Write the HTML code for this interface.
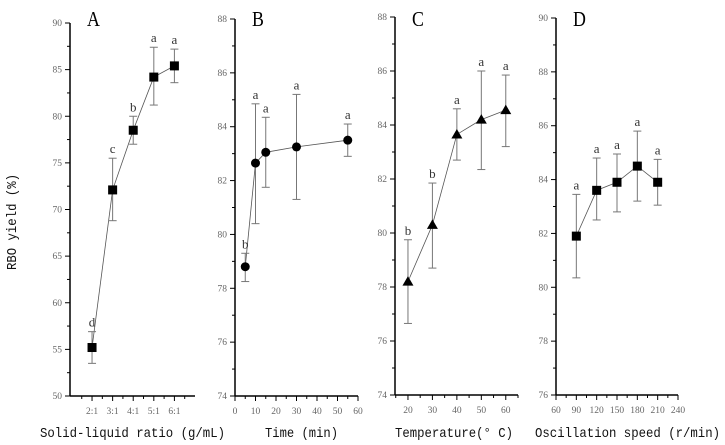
<!DOCTYPE html>
<html><head><meta charset="utf-8"><style>
body{margin:0;background:#fff}
svg{display:block;font-family:"Liberation Serif",serif}
.tk{font-size:9.5px;fill:#666}
.ttl{font-family:"Liberation Mono",monospace;font-size:14px;fill:#111}
</style></head><body>
<svg id="c" width="725" height="445" viewBox="0 0 725 445">
<text class="ttl" x="16" y="222" transform="rotate(-90 16 222)" text-anchor="middle" textLength="96" lengthAdjust="spacingAndGlyphs">RBO yield (%)</text>
</svg>
<script>
// Panel A
const aCats=["2:1","3:1","4:1","5:1","6:1"];
const aVals=[55.2,72.1,78.5,84.2,85.4];
const aLo=[53.5,68.8,77.0,81.2,83.6];
const aHi=[56.9,75.5,80.0,87.4,87.2];
const aSig=["d","c","b","a","a"];
// Panel B
const bX=[5,10,15,30,55];
const bVals=[78.8,82.65,83.05,83.25,83.5];
const bLo=[78.25,80.4,81.75,81.3,82.9];
const bHi=[79.3,84.85,84.35,85.2,84.1];
const bSig=["b","a","a","a","a"];
// Panel C
const cX=[20,30,40,50,60];
const cVals=[78.2,80.3,83.65,84.2,84.55];
const cLo=[76.65,78.7,82.7,82.35,83.2];
const cHi=[79.75,81.85,84.6,86.0,85.85];
const cSig=["b","b","a","a","a"];
// Panel D
const dX=[90,120,150,180,210];
const dVals=[81.9,83.6,83.9,84.5,83.9];
const dLo=[80.35,82.5,82.8,83.2,83.05];
const dHi=[83.45,84.8,84.95,85.8,84.75];
const dSig=["a","a","a","a","a"];
const aYT=[50,55,60,65,70,75,80,85,90];
const bYT=[74,76,78,80,82,84,86,88];
const dYT=[76,78,80,82,84,86,88,90];
const bXT=[0,10,20,30,40,50,60];
const cXT=[20,30,40,50,60];
const dXT=[60,90,120,150,180,210,240];

const svg=document.getElementById('c');
const NS="http://www.w3.org/2000/svg";
function mk(t,a,p){const e=document.createElementNS(NS,t);for(const k in a)e.setAttribute(k,a[k]);(p||svg).appendChild(e);return e;}

function panel(o){
  const g=mk('g',{});
  
  
  const X=v=>o.x0+(v-o.xmin)/(o.xmax-o.xmin)*(o.x1-o.x0);
  const Y=v=>o.y1-(v-o.ymin)/(o.ymax-o.ymin)*(o.y1-o.y0);
  const ya=mk('line',{x1:o.x0,y1:o.y0,x2:o.x0,y2:o.y1,stroke:'#000','stroke-width':1.5},g);
  
  const xa=mk('line',{x1:o.x0,y1:o.y1,x2:o.x1,y2:o.y1,stroke:'#000','stroke-width':1.5},g);
  
  const step=o.yt[1]-o.yt[0];
  o.yt.forEach((v,i)=>{
    mk('line',{x1:o.x0-5,y1:Y(v),x2:o.x0,y2:Y(v),stroke:'#000'},g);
    if(i<o.yt.length-1) mk('line',{x1:o.x0-3,y1:Y(v+step/2),x2:o.x0,y2:Y(v+step/2),stroke:'#000'},g);
    const t=mk('text',{x:o.x0-8,y:Y(v)+3,'text-anchor':'end',class:'tk'},g);t.textContent=v;
    
  });
  o.xt.forEach((v,i)=>{
    mk('line',{x1:X(v),y1:o.y1,x2:X(v),y2:o.y1+5,stroke:'#000'},g);
    const t=mk('text',{x:X(v),y:o.y1+18,'text-anchor':'middle',class:'tk'},g);t.textContent=o.xl?o.xl[i]:v;
    
  });
  o.xm.forEach(v=>mk('line',{x1:X(v),y1:o.y1,x2:X(v),y2:o.y1+3,stroke:'#000'},g));
  mk('polyline',{points:o.xs.map((x,i)=>X(x)+','+Y(o.v[i])).join(' '),fill:'none',stroke:'#555','stroke-width':0.8},g);
  o.xs.forEach((x,i)=>{
    const cx=X(x);
    mk('line',{x1:cx,y1:Y(o.lo[i]),x2:cx,y2:Y(o.hi[i]),stroke:'#777'},g);
    mk('line',{x1:cx-4,y1:Y(o.lo[i]),x2:cx+4,y2:Y(o.lo[i]),stroke:'#777'},g);
    mk('line',{x1:cx-4,y1:Y(o.hi[i]),x2:cx+4,y2:Y(o.hi[i]),stroke:'#777'},g);
    const cy=Y(o.v[i]);let m;
    if(o.mk==='sq') m=mk('rect',{x:cx-4.5,y:cy-4.5,width:9,height:9,fill:'#000'},g);
    else if(o.mk==='ci') m=mk('circle',{cx:cx,cy:cy,r:4.5,fill:'#000'},g);
    else m=mk('polygon',{points:`${cx},${cy-5.5} ${cx+5.5},${cy+4} ${cx-5.5},${cy+4}`,fill:'#000'},g);
    
    const s=mk('text',{x:cx,y:Y(o.hi[i])-5,'text-anchor':'middle','font-size':'13px',fill:'#333'},g);s.textContent=o.sig[i];
    
  });
  const L=mk('text',{x:o.x0+17,y:26,'font-size':'21px',fill:'#000',transform:`translate(${o.x0+17},0) scale(0.85,1) translate(${-(o.x0+17)},0)`},g);L.textContent=o.id;
  
  const T=mk('text',{x:o.tx,y:437,class:'ttl',textLength:o.tw,lengthAdjust:'spacingAndGlyphs'},g);T.textContent=o.title;
  
}
const half=a=>{const r=[];for(let i=0;i<a.length-1;i++)r.push((a[i]+a[i+1])/2);return r;};
panel({id:'A',x0:70,x1:195,xmin:-0.07,xmax:6,y0:23,y1:396,ymin:50,ymax:90,yt:aYT,
  xs:[1,2,3,4,5],xt:[1,2,3,4,5],xl:aCats,xm:[0.5,1.5,2.5,3.5,4.5,5.5],v:aVals,lo:aLo,hi:aHi,sig:aSig,mk:'sq',title:'Solid-liquid ratio (g/mL)',tx:40,tw:185});
panel({id:'B',x0:235,x1:358,xmin:0,xmax:60,y0:19,y1:396,ymin:74,ymax:88,yt:bYT,
  xs:bX,xt:bXT,xm:half(bXT),v:bVals,lo:bLo,hi:bHi,sig:bSig,mk:'ci',title:'Time (min)',tx:265,tw:73});
panel({id:'C',x0:395,x1:518,xmin:14.7,xmax:65,y0:17,y1:395,ymin:74,ymax:88,yt:bYT,
  xs:cX,xt:cXT,xm:[15,25,35,45,55,65],v:cVals,lo:cLo,hi:cHi,sig:cSig,mk:'tr',title:'Temperature(° C)',tx:395,tw:118});
panel({id:'D',x0:556,x1:678,xmin:60,xmax:240,y0:18,y1:395,ymin:76,ymax:90,yt:dYT,
  xs:dX,xt:dXT,xm:half(dXT),v:dVals,lo:dLo,hi:dHi,sig:dSig,mk:'sq',title:'Oscillation speed (r/min)',tx:535,tw:185});
</script>
</body></html>
